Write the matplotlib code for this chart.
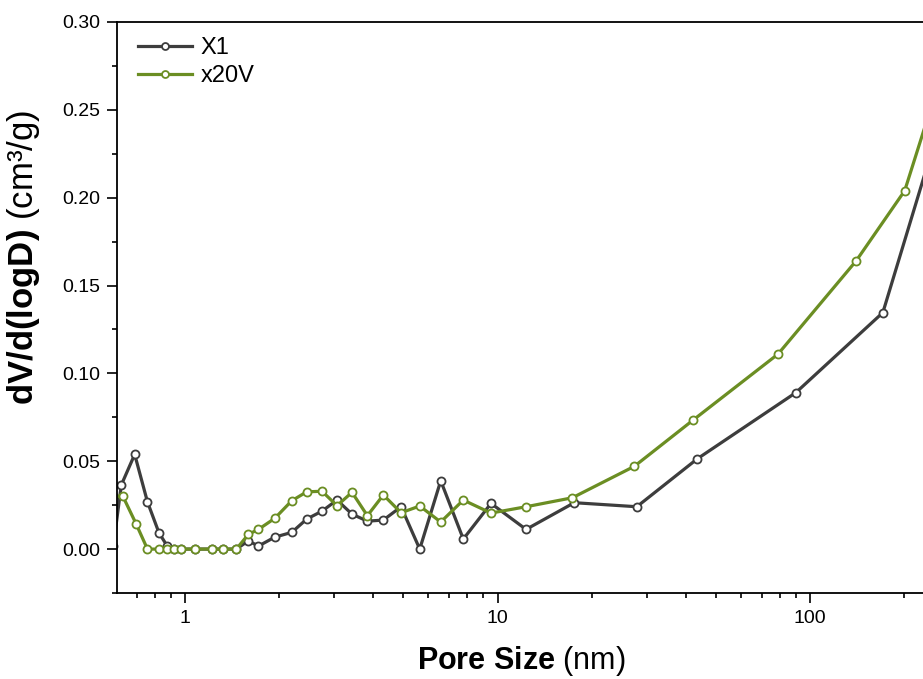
import numpy as np
import matplotlib
matplotlib.use('Agg')
import matplotlib.pyplot as plt
from matplotlib.ticker import MultipleLocator, FormatStrFormatter, LogLocator, FixedLocator, NullFormatter

plt.rcParams['font.family'] = ['Liberation Sans', 'DejaVu Sans']
plt.rcParams['mathtext.fontset'] = 'custom'
plt.rcParams['mathtext.rm'] = 'Liberation Sans'
plt.rcParams['mathtext.bf'] = 'Liberation Sans:bold'
plt.rcParams['mathtext.it'] = 'Liberation Sans:italic'

# BJH pore size distribution
x1_size = [0.59, 0.625, 0.69, 0.758, 0.825, 0.877, 0.92, 0.971, 1.079, 1.223, 1.326, 1.459,
           1.595, 1.717, 1.937, 2.195, 2.452, 2.744, 3.064, 3.422, 3.832, 4.311, 4.912, 5.637,
           6.58, 7.77, 9.53, 12.34, 17.6, 27.9, 43.6, 90.0, 171.0, 260.0]
x1_dv = [0.002, 0.0364, 0.0539, 0.0269, 0.0093, 0.0017, 0.0, 0.0, 0.0, 0.0, 0.0, 0.0,
         0.0047, 0.0017, 0.0068, 0.0095, 0.0171, 0.0216, 0.0279, 0.0199, 0.0159, 0.0165, 0.0241, 0.0,
         0.0389, 0.0057, 0.026, 0.0112, 0.0264, 0.0241, 0.0514, 0.089, 0.1346, 0.2415]

x20v_size = [0.59, 0.632, 0.697, 0.758, 0.825, 0.877, 0.92, 0.971, 1.079, 1.223, 1.326, 1.459,
             1.595, 1.717, 1.937, 2.195, 2.452, 2.744, 3.064, 3.422, 3.832, 4.311, 4.912, 5.637,
             6.58, 7.77, 9.53, 12.34, 17.35, 27.4, 42.3, 79.0, 140.4, 200.9, 260.0]
x20v_dv = [0.030, 0.0302, 0.0144, 0.0, 0.0, 0.0, 0.0, 0.0, 0.0, 0.0, 0.0, 0.0,
           0.0084, 0.0112, 0.0175, 0.0275, 0.0326, 0.0329, 0.0247, 0.0323, 0.019, 0.0308, 0.0207, 0.0245,
           0.0154, 0.0279, 0.0205, 0.0241, 0.0292, 0.0471, 0.0735, 0.111, 0.164, 0.204, 0.267]

dark = '#3d3d3d'
green = '#6b8e23'

fig = plt.figure(figsize=(9.23, 6.79), dpi=100)
ax = fig.add_axes([117/923, 1 - 593/679, (926 - 117)/923, (593 - 22)/679])

ax.plot(x1_size, x1_dv, color=dark, lw=2.3, marker='o', ms=5.8, mfc='white', mec=dark, mew=1.3, label='X1')
ax.plot(x20v_size, x20v_dv, color=green, lw=2.3, marker='o', ms=5.8, mfc='white', mec=green, mew=1.3, label='x20V')

ax.set_xscale('log')
ax.set_xlim(0.6057, 235)
ax.set_ylim(-0.025, 0.30)

ax.yaxis.set_major_locator(MultipleLocator(0.05))
ax.yaxis.set_minor_locator(MultipleLocator(0.025))
ax.yaxis.set_major_formatter(FormatStrFormatter('%.2f'))
ax.xaxis.set_major_locator(FixedLocator([1, 10, 100]))
ax.xaxis.set_major_formatter(FormatStrFormatter('%g'))
ax.xaxis.set_minor_locator(LogLocator(base=10, subs=np.arange(2, 10)))
ax.xaxis.set_minor_formatter(NullFormatter())

ax.tick_params(which='major', direction='out', length=7, width=1.2, labelsize=14, pad=5)
ax.tick_params(which='minor', direction='out', length=3.5, width=1.2)
ax.tick_params(axis='both', which='both', right=False, top=False)

for s in ['left', 'bottom', 'top']:
    ax.spines[s].set_linewidth(1.3)
ax.spines['right'].set_visible(False)

ax.set_xlabel(r'$\mathbf{Pore\ Size}$ (nm)', fontsize=22)
ax.xaxis.set_label_coords(0.5, -0.089)
ax.set_ylabel(r'$\mathbf{dV/d(logD)}$ (cm³/g)', fontsize=25)
ax.yaxis.set_label_coords(-0.0927, 0.587)

leg = ax.legend(loc='upper left', bbox_to_anchor=(0.007, 1.0), frameon=False, fontsize=17,
                handlelength=2.3, handletextpad=0.35, labelspacing=0.25, borderaxespad=0.25)
for h in leg.legend_handles:
    h.set_markersize(5)

fig.savefig('out.png', dpi=100)
